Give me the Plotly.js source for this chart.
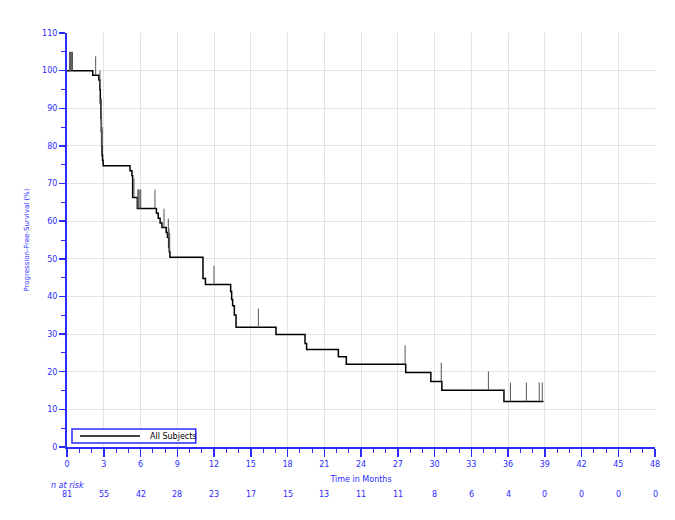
<!DOCTYPE html>
<html>
<head>
<meta charset="utf-8">
<script src="https://cdn.plot.ly/plotly-3.0.1.min.js"></script>
<style>
  html, body { margin: 0; padding: 0; background: #ffffff; }
  #kmPlot { width: 675px; height: 520px; }
</style>
</head>
<body>
<div id="kmPlot"></div>
<script>
// Kaplan-Meier curve knots (months, % progression-free)
var kmTime = [0, 2.1, 2.6, 2.68, 2.72, 2.76, 2.8, 2.83, 2.86, 2.9, 2.95,
              5.14, 5.3, 5.36, 5.74, 7.3, 7.45, 7.6, 7.75, 8.1, 8.2, 8.3, 8.35, 8.4,
              11.1, 11.3, 13.36, 13.44, 13.52, 13.66, 13.8, 17.06, 19.43, 19.56,
              22.15, 22.8, 27.65, 29.7, 30.6, 35.67, 38.9];
var kmSurv = [100, 98.8, 97.5, 95.0, 91.3, 87.5, 83.8, 80.0, 77.5, 76.2, 74.7,
              73.4, 72.1, 66.3, 63.4, 62.1, 60.8, 59.5, 58.3, 57.0, 55.7, 53.2, 51.9, 50.4,
              44.8, 43.2, 41.3, 39.2, 37.5, 35.1, 31.8, 29.9, 27.5, 25.9,
              24.0, 22.0, 19.8, 17.4, 15.1, 12.1, 12.1];

// censored subjects (months)
var censorTimes = [0.2, 0.25, 0.3, 0.35, 0.4, 0.45, 2.34, 2.69, 2.77, 2.8, 2.82, 2.84, 2.86,
                   5.47, 5.78, 5.85, 5.95, 6.02, 7.18, 7.92, 8.27, 8.32, 8.38,
                   12.0, 15.62, 27.6, 30.55, 34.4, 36.2, 37.5, 38.55, 38.8];

// number at risk table
var riskTimes = [0, 3, 6, 9, 12, 15, 18, 21, 24, 27, 30, 33, 36, 39, 42, 45, 48];
var nAtRisk   = [81, 55, 42, 28, 23, 17, 15, 13, 11, 11, 8, 6, 4, 0, 0, 0, 0];

var seriesName = 'All Subjects';

var blue = '#2b2bff';
var tickUp = 5; // height of a censoring tick, in % units

// survival just before time t
function survAt(t) {
    var s = kmSurv[0];
    for (var i = 0; i < kmTime.length; i++) {
        if (kmTime[i] < t) s = kmSurv[i];
    }
    return s;
}

// censoring ticks as vertical segments
var cx = [], cy = [];
censorTimes.forEach(function (t) {
    var s = survAt(t);
    cx.push(t, t, null);
    cy.push(s, s + tickUp, null);
});

var curve = {
    x: kmTime,
    y: kmSurv,
    type: 'scatter',
    mode: 'lines',
    line: { shape: 'hv', color: '#000000', width: 1.5 },
    name: seriesName,
    showlegend: false,
    hoverinfo: 'skip'
};

var censors = {
    x: cx,
    y: cy,
    type: 'scatter',
    mode: 'lines',
    line: { color: '#555555', width: 1 },
    showlegend: false,
    hoverinfo: 'skip'
};

// n at risk row
var annotations = riskTimes.map(function (t, i) {
    return {
        x: t, y: -0.114, xref: 'x', yref: 'paper', yanchor: 'middle',
        text: String(nAtRisk[i]), showarrow: false,
        font: { family: 'DejaVu Sans', size: 8, color: blue }
    };
});
annotations.push({
    x: 0, y: -0.094, xref: 'x', yref: 'paper', yanchor: 'middle',
    text: '<i>n at risk</i>', showarrow: false,
    font: { family: 'DejaVu Sans', size: 8, color: blue }
});
// legend label (boxed legend drawn with shapes below)
annotations.push({
    x: 0.137, y: 0.026, xref: 'paper', yref: 'paper', xanchor: 'left', yanchor: 'middle',
    text: seriesName, showarrow: false,
    font: { family: 'DejaVu Sans', size: 8, color: '#000000' }
});

var shapes = [
    { type: 'rect', xref: 'paper', yref: 'paper', x0: 0.0085, x1: 0.219, y0: 0.0095, y1: 0.0435,
      line: { color: blue, width: 1.5 }, fillcolor: '#ffffff', layer: 'above' },
    { type: 'line', xref: 'paper', yref: 'paper', x0: 0.022, x1: 0.124, y0: 0.0265, y1: 0.0265,
      line: { color: '#000000', width: 1.5 }, layer: 'above' }
];

var layout = {
    width: 675,
    height: 520,
    margin: { l: 67, r: 20, t: 33, b: 73 },
    paper_bgcolor: '#ffffff',
    plot_bgcolor: '#ffffff',
    font: { family: 'DejaVu Sans', size: 8, color: blue },
    xaxis: {
        range: [0, 48],
        dtick: 3,
        ticks: 'outside',
        ticklen: 8,
        tickwidth: 1.5,
        tickcolor: blue,
        showline: true,
        linecolor: blue,
        linewidth: 2,
        zeroline: false,
        showgrid: true,
        gridcolor: '#e4e4e4',
        gridwidth: 1,
        tickfont: { family: 'DejaVu Sans', size: 8, color: blue },
        minor: { dtick: 1, ticks: 'outside', ticklen: 4, tickcolor: blue, tickwidth: 1, showgrid: false },
        title: { text: 'Time in Months', standoff: 9, font: { family: 'DejaVu Sans', size: 8, color: blue } }
    },
    yaxis: {
        range: [0, 110],
        dtick: 10,
        ticks: 'outside',
        ticklen: 6,
        tickwidth: 1.5,
        tickcolor: blue,
        showline: true,
        linecolor: blue,
        linewidth: 2,
        zeroline: false,
        showgrid: true,
        gridcolor: '#e4e4e4',
        gridwidth: 1,
        tickfont: { family: 'DejaVu Sans', size: 8, color: blue },
        minor: { dtick: 5, ticks: 'outside', ticklen: 4, tickcolor: blue, tickwidth: 1, showgrid: false },
        title: { text: 'Progression-Free-Survival (%)', standoff: 12, font: { family: 'DejaVu Sans', size: 7, color: blue } }
    },
    annotations: annotations,
    shapes: shapes
};

Plotly.newPlot('kmPlot', [curve, censors], layout, { displayModeBar: false, staticPlot: true });
</script>
</body>
</html>
